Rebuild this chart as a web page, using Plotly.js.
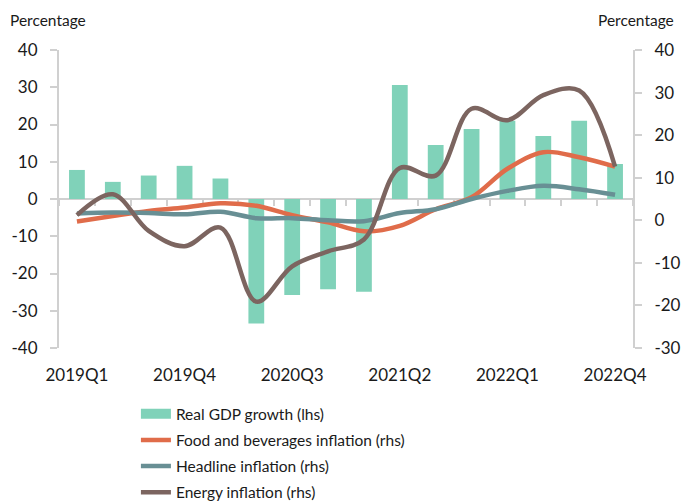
<!DOCTYPE html>
<html>
<head>
<meta charset="utf-8">
<script src="https://cdn.plot.ly/plotly-3.0.1.min.js"></script>
<style>html,body{margin:0;padding:0;background:#fff;}#chart{width:683px;height:502px;}</style>
</head>
<body>
<div id="chart"></div>
<script>
var quarters = ['2019Q1','2019Q2','2019Q3','2019Q4','2020Q1','2020Q2','2020Q3','2020Q4',
                '2021Q1','2021Q2','2021Q3','2021Q4','2022Q1','2022Q2','2022Q3','2022Q4'];
var gdpGrowth = [7.8, 4.6, 6.3, 8.9, 5.5, -33.4, -25.8, -24.2, -24.9, 30.6, 14.5, 18.8, 21.0, 16.9, 21.0, 9.4];
var foodInflation = [-0.3, 1.0, 2.2, 3.0, 4.0, 3.4, 1.2, -0.5, -2.6, -1.3, 2.6, 5.4, 12.1, 16.0, 14.8, 12.6];
var headlineInflation = [1.6, 1.8, 1.7, 1.4, 2.0, 0.5, 0.5, 0.0, -0.2, 1.7, 2.6, 5.0, 6.9, 8.1, 7.3, 6.0];
var energyInflation = [1.2, 6.1, -2.5, -6.1, -1.7, -19.1, -10.8, -7.3, -4.5, 12.3, 10.5, 26.2, 23.5, 29.4, 30.5, 12.6];
var xTickLabels = ['2019Q1','2019Q4','2020Q3','2021Q2','2022Q1','2022Q4'];
var leftTicks = [-40,-30,-20,-10,0,10,20,30,40];
var leftTickText = ['-40','-30','-20','-10','0','10','20','30','40'];
var rightTicks = [-30,-20,-10,0,10,20,30,40];
var rightTickText = ['-30','-20','-10','0','10','20','30','40'];

var FONT = 'Lato, "Open Sans", sans-serif';
var AX = '#d0d0d0';
var TXT = '#1a1a1a';

var traces = [
  {type:'bar', x:quarters, y:gdpGrowth, xaxis:'x', yaxis:'y', name:'Real GDP growth (lhs)',
   marker:{color:'#80d2b9'}, showlegend:false, hoverinfo:'y'},
  {type:'scatter', mode:'lines', x:[null], y:[null], xaxis:'x2', yaxis:'y2', name:'Real GDP growth (lhs)',
   line:{color:'#80d2b9', width:10}, legendgroup:'g1', hoverinfo:'skip'},
  {type:'scatter', mode:'lines', x:quarters, y:foodInflation, xaxis:'x2', yaxis:'y2',
   name:'Food and beverages inflation (rhs)', legendgroup:'g2',
   line:{color:'#e06c4a', width:4.5, shape:'spline', smoothing:1}},
  {type:'scatter', mode:'lines', x:quarters, y:headlineInflation, xaxis:'x2', yaxis:'y2',
   name:'Headline inflation (rhs)', legendgroup:'g3',
   line:{color:'#688f94', width:4.5, shape:'spline', smoothing:1}},
  {type:'scatter', mode:'lines', x:quarters, y:energyInflation, xaxis:'x2', yaxis:'y2',
   name:'Energy inflation (rhs)', legendgroup:'g4',
   line:{color:'#7c6560', width:4.5, shape:'spline', smoothing:1}}
];

var layout = {
  width:683, height:502,
  margin:{l:59, r:50, t:50, b:154, autoexpand:false},
  paper_bgcolor:'#fff', plot_bgcolor:'rgba(0,0,0,0)',
  font:{family:FONT, size:16, color:TXT},
  bargap:0.56,
  showlegend:true,
  legend:{x:0.134, xanchor:'left', y:-0.165, yanchor:'top', orientation:'v',
          traceorder:'grouped', tracegroupgap:3, font:{family:FONT, size:15.5, color:TXT},
          bgcolor:'rgba(0,0,0,0)'},
  xaxis:{type:'category', categoryorder:'array', categoryarray:quarters, range:[-0.5,15.5],
         anchor:'free', position:0.5, showticklabels:false, ticks:'outside', tickson:'boundaries',
         ticklen:6, tickwidth:2, tickcolor:AX, showline:true, linecolor:AX, linewidth:2,
         showgrid:false, zeroline:false, layer:'below traces', fixedrange:true},
  xaxis2:{type:'category', categoryorder:'array', categoryarray:quarters, range:[-0.5,15.5],
          overlaying:'x', anchor:'y2', side:'bottom', tickmode:'array', tickvals:xTickLabels, ticktext:xTickLabels,
          ticks:'', ticklabelstandoff:15, showline:false, showgrid:false, zeroline:false,
          tickfont:{family:FONT, size:17, color:TXT}, fixedrange:true},
  yaxis:{range:[-40,40], tickmode:'array', tickvals:leftTicks, ticktext:leftTickText,
         ticks:'outside', ticklen:7, tickwidth:2, tickcolor:AX, showline:true, linecolor:AX, linewidth:2,
         ticklabelstandoff:9,
         showgrid:false, zeroline:false, anchor:'x', tickfont:{family:FONT, size:17, color:TXT}, fixedrange:true},
  yaxis2:{range:[-30,40], tickmode:'array', tickvals:rightTicks, ticktext:rightTickText,
          overlaying:'y', side:'right', anchor:'x2',
          ticks:'outside', ticklen:7, tickwidth:2, tickcolor:AX, showline:true, linecolor:AX, linewidth:2,
          ticklabelstandoff:9,
          showgrid:false, zeroline:false, tickfont:{family:FONT, size:17, color:TXT}, fixedrange:true},
  annotations:[
    {text:'Percentage', xref:'paper', yref:'paper', x:-0.088, y:1.1, xanchor:'left', yanchor:'middle',
     showarrow:false, font:{family:FONT, size:15.5, color:TXT}},
    {text:'Percentage', xref:'paper', yref:'paper', x:1.075, y:1.1, xanchor:'right', yanchor:'middle',
     showarrow:false, font:{family:FONT, size:15.5, color:TXT}}
  ]
};

Plotly.newPlot('chart', traces, layout, {displayModeBar:false, staticPlot:true});
</script>
</body>
</html>
